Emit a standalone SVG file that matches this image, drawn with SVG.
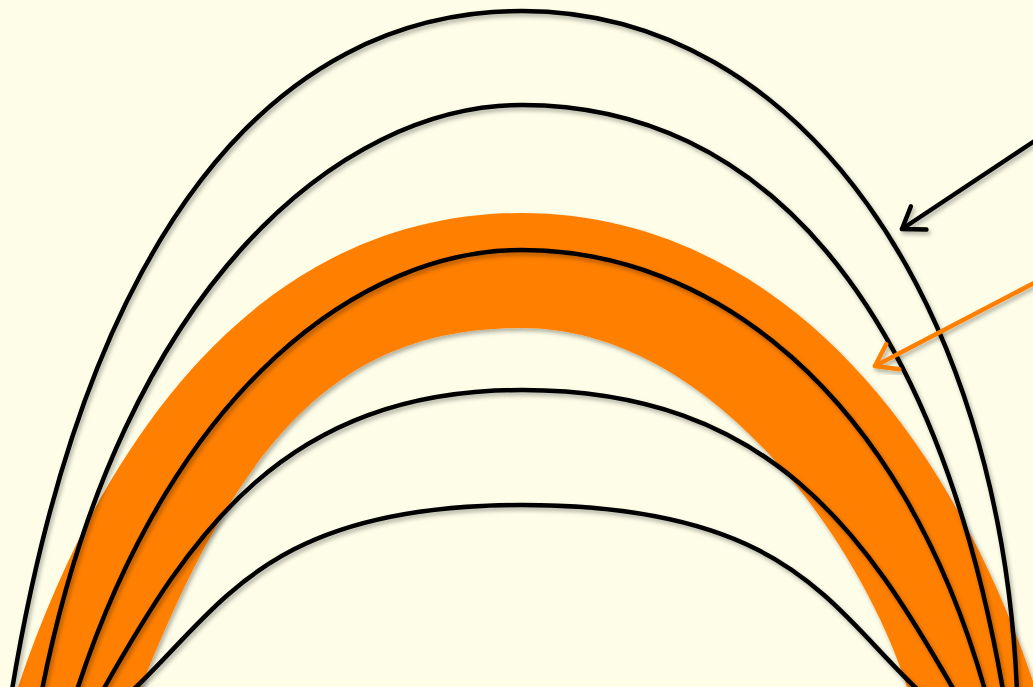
<svg xmlns="http://www.w3.org/2000/svg" width="1033" height="687" viewBox="0 0 1033 687">
  <defs>
    <filter id="sh" x="-10%" y="-10%" width="120%" height="120%">
      <feDropShadow dx="2" dy="3" stdDeviation="2" flood-color="#000" flood-opacity="0.3"/>
    </filter>
    <marker id="headBlack" markerUnits="userSpaceOnUse" markerWidth="40" markerHeight="40" viewBox="-30 -20 40 40" refX="0" refY="0" orient="auto">
      <path d="M-20,-14 L0,0 L-20,14" fill="none" stroke="#000" stroke-width="4.5" stroke-linecap="round" stroke-linejoin="round"/>
    </marker>
    <marker id="headOrange" markerUnits="userSpaceOnUse" markerWidth="40" markerHeight="40" viewBox="-30 -20 40 40" refX="0" refY="0" orient="auto">
      <path d="M-20,-14 L0,0 L-20,14" fill="none" stroke="#FF7F00" stroke-width="4.5" stroke-linecap="round" stroke-linejoin="round"/>
    </marker>
  </defs>
  <style>
    .curve { fill: none; stroke: #000; stroke-width: 4.5; filter: url(#sh); }
    .band { fill: #FF7F00; stroke: none; filter: url(#sh); }
    .arrowBlack { fill: none; stroke: #000; stroke-width: 4.5; stroke-linecap: round; marker-end: url(#headBlack); filter: url(#sh); }
    .arrowOrange { fill: none; stroke: #FF7F00; stroke-width: 4.5; stroke-linecap: round; marker-end: url(#headOrange); filter: url(#sh); }
  </style>
  <rect x="0" y="0" width="1033" height="687" fill="#FDFDE8"/>
  <g id="band">
    <path class="band" d="M17,690 C119,387 293,213 522,213 C745,213 935,387 1036,690 L908,690 C860,537 708,328 522,328 C339,328 240,437 140,690 Z"/>
  </g>
  <g id="curve1"><path class="curve" d="M12,690 C87,237 270,11 522,11 C800,11 1000,300 1017,690"/></g>
  <g id="curve2"><path class="curve" d="M42,690 C122,287 340,105 522,105 C760,105 935,300 1003,690"/></g>
  <g id="curve3"><path class="curve" d="M77,690 C176,387 361,250 522,250 C710,250 900,390 985,690"/></g>
  <g id="curve4"><path class="curve" d="M103,690 C190,537 282,390 522,390 C772,390 866,537 954,690"/></g>
  <g id="curve5"><path class="curve" d="M133,690 C221,607 267,505 522,505 C787,505 830,607 918,690"/></g>
  <g id="connectors">
    <path class="arrowBlack" d="M1036,140 L902,229"/>
    <path class="arrowOrange" d="M1036,282 L875,366"/>
  </g>
</svg>
